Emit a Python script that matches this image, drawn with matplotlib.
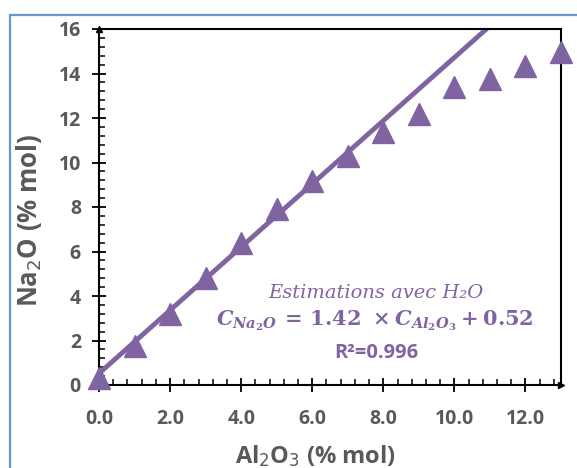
import matplotlib.pyplot as plt
import numpy as np
from matplotlib.ticker import MultipleLocator, FormatStrFormatter
from matplotlib.patches import Rectangle

plt.rcParams['mathtext.fontset'] = 'custom'
plt.rcParams['mathtext.rm'] = 'DejaVu Serif:bold'
plt.rcParams['mathtext.it'] = 'DejaVu Serif:bold:italic'

# data
al2o3 = [0, 1, 2, 3, 4, 5, 6, 7, 8, 9, 10, 11, 12, 13]
na2o = [0.3, 1.75, 3.2, 4.8, 6.4, 7.9, 9.15, 10.3, 11.35, 12.2, 13.4, 13.75, 14.35, 14.95]
slope, intercept = 1.42, 0.52

purple = '#8064A2'
grey = '#595959'

fig = plt.figure(figsize=(5.77, 4.68), dpi=100)
ax = fig.add_axes([99/577, 1-385/468, 462/577, 356/468])

# outer chart frame (cropped on right/bottom)
fig.patches.append(Rectangle((10/577, -0.1), 1.2, 1-15/468+0.1, transform=fig.transFigure,
                             fill=False, edgecolor='#6A97D4', linewidth=1.6))

xfit = np.array([0, 13])
ax.plot(xfit, slope*xfit + intercept, color=purple, lw=3.5)
ax.plot(al2o3, na2o, '^', color=purple, ms=15.5, clip_on=False, zorder=5)

ax.set_xlim(0, 13)
ax.set_ylim(0, 16)
ax.xaxis.set_major_locator(MultipleLocator(2))
ax.xaxis.set_minor_locator(MultipleLocator(0.4))
ax.yaxis.set_major_locator(MultipleLocator(2))
ax.yaxis.set_minor_locator(MultipleLocator(0.4))
ax.xaxis.set_major_formatter(FormatStrFormatter('%.1f'))
ax.yaxis.set_major_formatter(FormatStrFormatter('%d'))

ax.tick_params(which='major', direction='inout', length=10, width=1.3, color='black',
               labelsize=14, labelcolor=grey)
ax.tick_params(which='minor', direction='in', length=4, width=1.1, color='black')
ax.tick_params(axis='x', which='major', pad=12)
ax.tick_params(axis='y', which='major', pad=8)
for lab in ax.get_xticklabels() + ax.get_yticklabels():
    lab.set_fontweight('bold')
    lab.set_family('Open Sans')

for s in ax.spines.values():
    s.set_linewidth(1.5)
    s.set_color('black')

# arrow heads on axes
ax.plot(1, 0, '>', color='black', ms=5, transform=ax.transAxes, clip_on=False)
ax.plot(0, 1, '^', color='black', ms=5, transform=ax.transAxes, clip_on=False)

ax.set_xlabel('Al$_\\mathsf{2}$O$_\\mathsf{3}$ (% mol)', fontsize=17, fontweight='bold',
              color=grey, family='Open Sans')
ax.xaxis.set_label_coords((315-99)/462, -(443-385)/356)
ax.set_ylabel('Na$_\\mathsf{2}$O (% mol)', fontsize=18.5, fontweight='bold',
              color=grey, family='Open Sans')
ax.yaxis.set_label_coords(-(99-44)/462, (385-220)/356)

ax.text(7.8, 4.15, 'Estimations avec H₂O', fontsize=14, style='italic',
        family='DejaVu Serif', color=purple, ha='center', va='center')
ax.text(7.75, 2.9, '$C_{Na_2O}\\,=\\,1.42\\ \\times C_{Al_2O_3}+0.52$', fontsize=15,
        color=purple, ha='center', va='center')
ax.text(7.8, 1.45, 'R²=0.996', fontsize=14.5, fontweight='bold', family='Open Sans',
        color=purple, ha='center', va='center')

fig.savefig('out.png', dpi=100)
